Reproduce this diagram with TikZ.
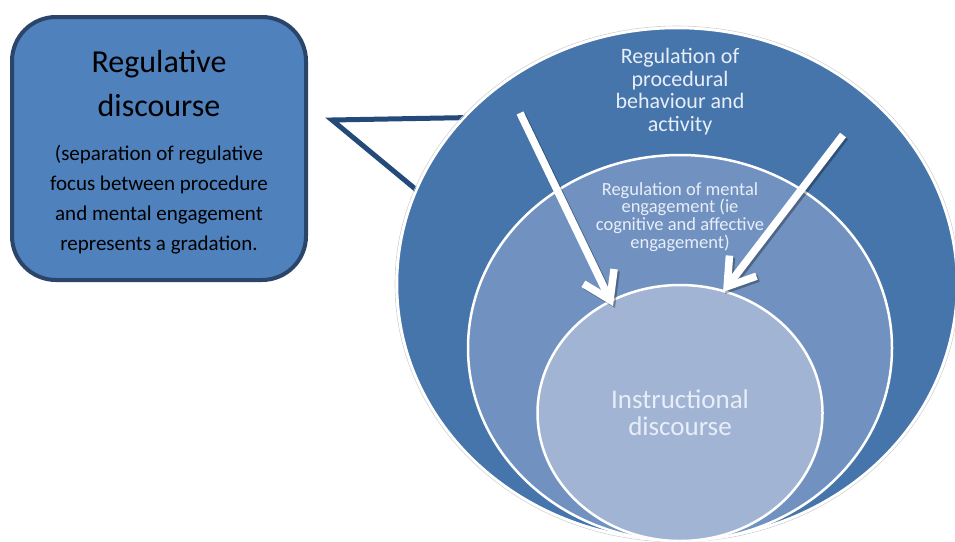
\documentclass[tikz,border=0pt]{standalone}
\usepackage{fontspec}
\setmainfont{Carlito}
\usetikzlibrary{arrows.meta}
\definecolor{outerC}{RGB}{70,117,171}
\definecolor{midC}{RGB}{113,146,192}
\definecolor{innerC}{RGB}{162,180,212}
\definecolor{boxC}{RGB}{79,129,189}
\definecolor{boxD}{RGB}{42,69,105}
\definecolor{callC}{RGB}{36,74,122}
\definecolor{txtC}{RGB}{232,238,248}
\begin{document}
\begin{tikzpicture}[x=1pt,y=-1pt,
  ring/.style={draw=white,line width=2.5pt},
  box/.style={draw=boxD,fill=boxC,line width=4pt,rounded corners=44pt,minimum width=294pt,minimum height=263pt,inner sep=0pt},
  ttl/.style={font=\fontsize{32}{38}\selectfont,anchor=base,inner sep=0pt},
  body/.style={font=\fontsize{21}{25}\selectfont,anchor=base,inner sep=0pt},
  otxt/.style={font=\fontsize{22}{26}\selectfont,text=txtC,anchor=base,inner sep=0pt},
  mtxt/.style={font=\fontsize{18.5}{22}\selectfont,text=txtC,anchor=base,inner sep=0pt},
  itxt/.style={font=\fontsize{27}{32}\selectfont,text=txtC,anchor=base,inner sep=0pt},
  callout/.style={draw=callC,line width=5pt,line join=miter},
  arr/.style={draw=white,line width=7.5pt,-{Straight Barb[length=26pt,width=34pt]}},
  arrsh/.style={draw=black,draw opacity=.3,line width=7.5pt,-{Straight Barb[length=26pt,width=34pt]}}]
\clip (0,0) rectangle (955,541);
% callout pointer
\coordinate (ctip) at (332,120);
\coordinate (cu) at (472,117.5);
\coordinate (cl) at (425,197);
\draw[callout] (cu) -- (ctip) -- (cl);
% nested ellipses
\draw[gray!35,line width=0.6pt] (677,284) ellipse [x radius=282pt,y radius=258pt];
\draw[ring,fill=outerC] (677,284) ellipse [x radius=280pt,y radius=256pt];
\draw[ring,fill=midC] (680,348) ellipse [x radius=212pt,y radius=193pt];
\draw[ring,fill=innerC] (680,413) ellipse [x radius=142.5pt,y radius=128pt];
% texts in ellipses
\node[otxt] (o1) at (680,63.5) {Regulation of};
\node[otxt] (o2) at (680,86) {procedural};
\node[otxt] (o3) at (680,108.5) {behaviour and};
\node[otxt] (o4) at (680,131) {activity};
\node[mtxt] (m1) at (680,195) {Regulation of mental};
\node[mtxt] (m2) at (680,212.7) {engagement (ie};
\node[mtxt] (m3) at (680,230.7) {cognitive and affective};
\node[mtxt] (m4) at (680,248.5) {engagement)};
\node[itxt] (i1) at (680,408.5) {Instructional};
\node[itxt] (i2) at (680,435) {discourse};
% arrows
\coordinate (a1s) at (520,113);
\coordinate (a1e) at (613,306);
\coordinate (a2s) at (843,135);
\coordinate (a2e) at (723,292);
\draw[arrsh] ([shift={(2,2)}]a1s) -- ([shift={(2,2)}]a1e);
\draw[arrsh] ([shift={(2,2)}]a2s) -- ([shift={(2,2)}]a2e);
\draw[arr] (a1s) -- (a1e);
\draw[arr] (a2s) -- (a2e);
% left box
\node[box] (regbox) at (159,148.5) {};
\node[ttl] (t1) at (159,72.5) {Regulative};
\node[ttl] (t2) at (159,116.5) {discourse};
\node[body] (b1) at (159,160.5) {(separation of regulative};
\node[body] (b2) at (159,190.5) {focus between procedure};
\node[body] (b3) at (159,220.5) {and mental engagement};
\node[body] (b4) at (159,250.5) {represents a gradation.};
\end{tikzpicture}
\end{document}
